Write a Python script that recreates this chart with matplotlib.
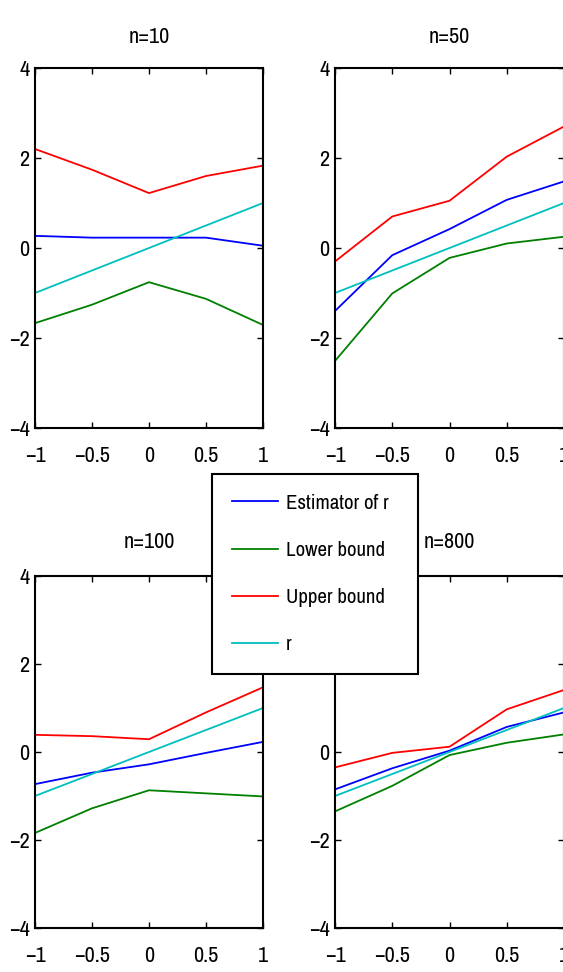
import matplotlib
matplotlib.use("Agg")
import matplotlib.pyplot as plt
from matplotlib import font_manager as fm

# the reference uses a tall, narrow MATLAB-style Helvetica; take a condensed
# face if one is installed, otherwise fall back to Liberation Sans
condensed = sorted({f.name for f in fm.fontManager.ttflist
                    if f.stretch == "condensed"
                    or "Narrow" in f.name or "Condensed" in f.name})
if condensed:
    plt.rcParams["font.family"] = [condensed[0], "DejaVu Sans"]
    plt.rcParams["font.stretch"] = "condensed"
else:
    plt.rcParams["font.family"] = ["Liberation Sans", "DejaVu Sans"]

# --- data ------------------------------------------------------------------
X = [-1, -0.5, 0, 0.5, 1]
XTICK_LABELS = ["\u22121", "\u22120.5", "0", "0.5", "1"]
YTICKS = [-4, -2, 0, 2, 4]
YTICK_LABELS = ["\u22124", "\u22122", "0", "2", "4"]

TITLES = ["n=10", "n=50", "n=100", "n=800"]
LABELS = ["Estimator of r", "Lower bound", "Upper bound", "r"]

ESTIMATOR = [
    [0.27, 0.23, 0.23, 0.23, 0.05],
    [-1.40, -0.16, 0.42, 1.07, 1.48],
    [-0.73, -0.47, -0.28, -0.02, 0.23],
    [-0.85, -0.37, 0.03, 0.57, 0.90],
]
LOWER = [
    [-1.67, -1.26, -0.76, -1.13, -1.71],
    [-2.51, -1.01, -0.22, 0.10, 0.25],
    [-1.84, -1.28, -0.87, -0.94, -1.01],
    [-1.35, -0.77, -0.07, 0.21, 0.40],
]
UPPER = [
    [2.20, 1.74, 1.22, 1.60, 1.83],
    [-0.30, 0.70, 1.05, 2.03, 2.70],
    [0.39, 0.36, 0.29, 0.90, 1.47],
    [-0.35, -0.02, 0.12, 0.97, 1.41],
]
TRUE_R = [-1, -0.5, 0, 0.5, 1]

# --- style -----------------------------------------------------------------
COLORS = ["#0000ff", "#008000", "#ff0000", "#00bfbf"]
FS = 16
FS_LEG = 15

# --- layout (pixels; figure is 563 x 972) ----------------------------------
W, H = 563, 972
# (left, top, width, height, title pad) in pixels from top-left
BOXES = [
    (35, 68, 228, 360, 18),
    (335, 68, 229, 360, 18),
    (35, 576, 228, 352, 20),
    (335, 576, 229, 352, 20),
]

fig = plt.figure(figsize=(W / 100, H / 100), dpi=100)

for i, (l, t, w, h, tpad) in enumerate(BOXES):
    ax = fig.add_axes([l / W, 1 - (t + h) / H, w / W, h / H])
    series = [ESTIMATOR[i], LOWER[i], UPPER[i], TRUE_R]
    for ys, col, lab in zip(series, COLORS, LABELS):
        ax.plot(X, ys, color=col, lw=1.3, label=lab)
    ax.set_xlim(-1, 1)
    ax.set_ylim(-4, 4)
    ax.set_xticks(X)
    ax.set_xticklabels(XTICK_LABELS)
    ax.set_yticks(YTICKS)
    ax.set_yticklabels(YTICK_LABELS)
    ax.tick_params(direction="in", length=4, width=1, top=True, right=True,
                   labelsize=FS, pad=4)
    ax.tick_params(axis="x", pad=13)
    for s in ax.spines.values():
        s.set_linewidth(1.5)
    ax.set_title(TITLES[i], fontsize=FS, pad=tpad)
    if i == 0:
        handles, labels = ax.get_legend_handles_labels()

leg = fig.legend(handles, labels, loc="upper left", mode="expand",
                 bbox_to_anchor=(212 / W, 1 - 474 / H, 206 / W, 0),
                 fontsize=FS_LEG, frameon=True, fancybox=False, framealpha=1,
                 edgecolor="black", handlelength=2.2, handletextpad=0.4,
                 labelspacing=1.35, borderpad=0.95, borderaxespad=0)
leg.get_frame().set_linewidth(1.5)

fig.savefig("out.png", dpi=100)
